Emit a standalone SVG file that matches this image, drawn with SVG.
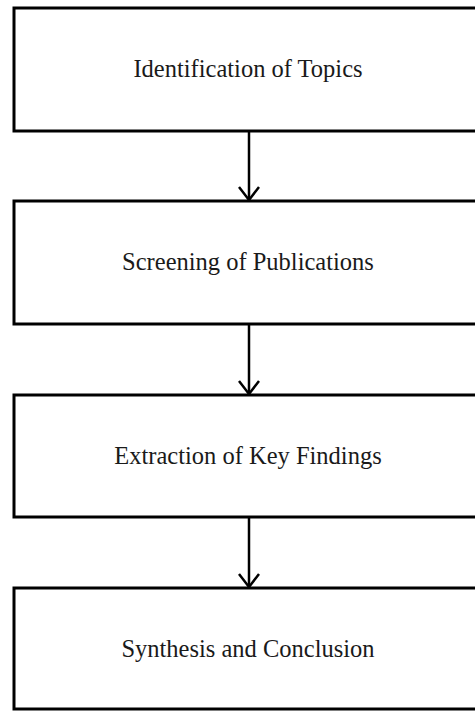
<svg xmlns="http://www.w3.org/2000/svg" width="475" height="711" viewBox="0 0 475 711">
<defs>
<style>
.box{fill:#fff;stroke:#000;stroke-width:3}
.lbl{font-family:"Liberation Serif","Times New Roman",serif;font-size:24.5px;fill:#1a1a1a;text-anchor:middle}
.conn{stroke:#000;stroke-width:2.5;fill:none}
</style>
</defs>
<rect width="475" height="711" fill="#fff"/>
<g id="connectors">
<line class="conn" x1="249" y1="131" x2="249" y2="200"/>
<path class="conn" d="M239,187 L249,200 L259,187"/>
<line class="conn" x1="249" y1="324" x2="249" y2="394"/>
<path class="conn" d="M239,381 L249,394 L259,381"/>
<line class="conn" x1="249" y1="517" x2="249" y2="587"/>
<path class="conn" d="M239,574 L249,587 L259,574"/>
</g>
<g id="node1">
<rect class="box" x="14" y="8" width="470" height="123"/>
<text class="lbl" x="248" y="77">Identification of Topics</text>
</g>
<g id="node2">
<rect class="box" x="14" y="201" width="470" height="123"/>
<text class="lbl" x="248" y="270">Screening of Publications</text>
</g>
<g id="node3">
<rect class="box" x="14" y="395" width="470" height="122"/>
<text class="lbl" x="248" y="464">Extraction of Key Findings</text>
</g>
<g id="node4">
<rect class="box" x="14" y="588" width="470" height="121"/>
<text class="lbl" x="248" y="657">Synthesis and Conclusion</text>
</g>
</svg>
